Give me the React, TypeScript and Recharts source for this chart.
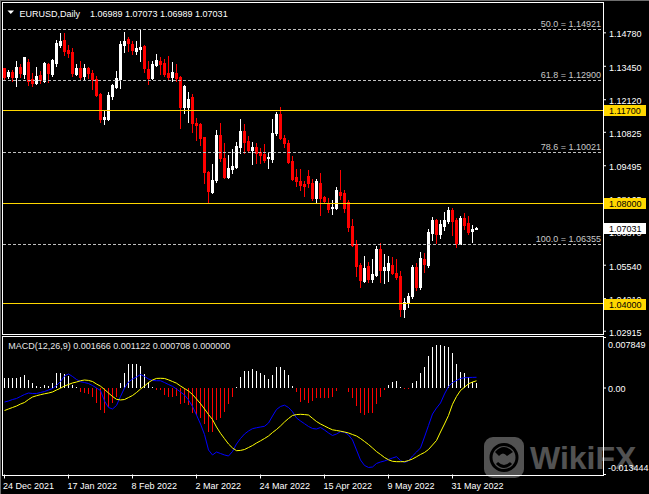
import React from 'react';
import { ComposedChart, Bar, Line, XAxis, YAxis, ReferenceLine } from 'recharts';

// ---------- DATA ----------
const candleOpen = [
  1.1337, 1.1306, 1.1324, 1.1301, 1.1342, 1.1314, 1.1363, 1.1293, 1.1277, 1.1309,
  1.1287, 1.1353, 1.1314, 1.1357, 1.1428, 1.1450, 1.1410, 1.1403, 1.1314, 1.1337,
  1.1306, 1.1337, 1.1320, 1.1295, 1.1235, 1.1137, 1.1136, 1.1227, 1.1264, 1.1295,
  1.1430, 1.1454, 1.1434, 1.1406, 1.1415, 1.1426, 1.1334, 1.1297, 1.1350, 1.1366,
  1.1359, 1.1317, 1.1301, 1.1320, 1.1301, 1.1183, 1.1185, 1.1223, 1.1121, 1.1116,
  1.1064, 1.0926, 1.0847, 1.0893, 1.1072, 1.0979, 1.0906, 1.0935, 1.0943, 1.1023,
  1.1088, 1.1048, 1.1012, 1.1023, 1.1006, 1.0995, 1.0980, 1.0976, 1.1078, 1.1155,
  1.1061, 1.1039, 1.0969, 1.0903, 1.0890, 1.0877, 1.0909, 1.0882, 1.0820, 1.0880,
  1.0827, 1.0800, 1.0780, 1.0780, 1.0847, 1.0840, 1.0804, 1.0710, 1.0638, 1.0555,
  1.0493, 1.0551, 1.0499, 1.0515, 1.0619, 1.0535, 1.0535, 1.0555, 1.0525, 1.0511,
  1.0379, 1.0405, 1.0432, 1.0548, 1.0469, 1.0577, 1.0555, 1.0684, 1.0734, 1.0678,
  1.0710, 1.0731, 1.0774, 1.0734, 1.0638, 1.0741, 1.0721, 1.0690, 1.06989,
];
const candleHigh = [
  1.1340, 1.1330, 1.1330, 1.1366, 1.1354, 1.1382, 1.1374, 1.1317, 1.1342, 1.1328,
  1.1363, 1.1359, 1.1373, 1.1450, 1.1476, 1.1476, 1.1428, 1.1417, 1.1354, 1.1366,
  1.1353, 1.1344, 1.1330, 1.1306, 1.1240, 1.1171, 1.1244, 1.1275, 1.1326, 1.1447,
  1.1480, 1.1460, 1.1447, 1.1444, 1.1490, 1.1428, 1.1366, 1.1367, 1.1394, 1.1382,
  1.1374, 1.1387, 1.1362, 1.1354, 1.1306, 1.1271, 1.1244, 1.1233, 1.1141, 1.1118,
  1.1064, 1.0930, 1.0957, 1.1092, 1.1121, 1.1039, 1.0992, 1.1015, 1.1045, 1.1135,
  1.1116, 1.1068, 1.1044, 1.1039, 1.1019, 1.1035, 1.0999, 1.1135, 1.1163, 1.1184,
  1.1072, 1.1052, 1.0988, 1.0937, 1.0937, 1.0890, 1.0933, 1.0895, 1.0895, 1.0919,
  1.0829, 1.0820, 1.0813, 1.0864, 1.0933, 1.0853, 1.0813, 1.0736, 1.0654, 1.0562,
  1.0591, 1.0568, 1.0577, 1.0631, 1.0641, 1.0597, 1.0591, 1.0585, 1.0577, 1.0531,
  1.0422, 1.0442, 1.0555, 1.0562, 1.0608, 1.0601, 1.0697, 1.0747, 1.0739, 1.0734,
  1.0767, 1.0787, 1.0781, 1.0741, 1.0750, 1.0760, 1.0750, 1.0714, 1.07073,
];
const candleLow = [
  1.1293, 1.1297, 1.1287, 1.1268, 1.1304, 1.1297, 1.1271, 1.1267, 1.1273, 1.1280,
  1.1284, 1.1281, 1.1306, 1.1346, 1.1423, 1.1390, 1.1383, 1.1306, 1.1310, 1.1295,
  1.1295, 1.1300, 1.1255, 1.1227, 1.1124, 1.1117, 1.1132, 1.1216, 1.1260, 1.1260,
  1.1402, 1.1406, 1.1393, 1.1393, 1.1367, 1.1324, 1.1276, 1.1295, 1.1346, 1.1314,
  1.1306, 1.1296, 1.1285, 1.1287, 1.1101, 1.1161, 1.1124, 1.1082, 1.1052, 1.1031,
  1.0882, 1.0803, 1.0843, 1.0886, 1.0969, 1.0900, 1.0900, 1.0922, 1.0939, 1.0999,
  1.0999, 1.1006, 1.0957, 1.0959, 1.0962, 1.0966, 1.0941, 1.0966, 1.1072, 1.1056,
  1.1023, 1.0959, 1.0893, 1.0869, 1.0853, 1.0829, 1.0866, 1.0813, 1.0807, 1.0754,
  1.0800, 1.0767, 1.0758, 1.0776, 1.0816, 1.0767, 1.0691, 1.0631, 1.0511, 1.0469,
  1.0489, 1.0489, 1.0489, 1.0511, 1.0489, 1.0482, 1.0493, 1.0519, 1.0499, 1.0354,
  1.0350, 1.0387, 1.0422, 1.0456, 1.0458, 1.0529, 1.0548, 1.0654, 1.0641, 1.0661,
  1.0694, 1.0721, 1.0674, 1.0625, 1.0638, 1.0697, 1.0678, 1.0648, 1.06989,
];
const candleClose = [
  1.1301, 1.1324, 1.1304, 1.1341, 1.1317, 1.1380, 1.1288, 1.1277, 1.1306, 1.1291,
  1.1359, 1.1317, 1.1369, 1.1439, 1.1447, 1.1406, 1.1397, 1.1320, 1.1340, 1.1304,
  1.1340, 1.1317, 1.1293, 1.1231, 1.1134, 1.1145, 1.1231, 1.1271, 1.1300, 1.1434,
  1.1446, 1.1436, 1.1410, 1.1419, 1.1420, 1.1340, 1.1300, 1.1355, 1.1370, 1.1353,
  1.1313, 1.1301, 1.1322, 1.1297, 1.1183, 1.1268, 1.1215, 1.1120, 1.1112, 1.1061,
  1.0924, 1.0851, 1.0893, 1.1072, 1.0979, 1.0906, 1.0942, 1.0949, 1.1028, 1.1088,
  1.1045, 1.1012, 1.1023, 1.0999, 1.0992, 1.0972, 1.0986, 1.1078, 1.1155, 1.1058,
  1.1039, 1.0966, 1.0896, 1.0890, 1.0873, 1.0869, 1.0880, 1.0820, 1.0890, 1.0820,
  1.0810, 1.0776, 1.0787, 1.0853, 1.0833, 1.0780, 1.0707, 1.0633, 1.0551, 1.0495,
  1.0542, 1.0498, 1.0519, 1.0619, 1.0535, 1.0546, 1.0562, 1.0525, 1.0509, 1.0379,
  1.0409, 1.0432, 1.0548, 1.0466, 1.0581, 1.0558, 1.0687, 1.0734, 1.0678, 1.0717,
  1.0734, 1.0774, 1.0731, 1.0641, 1.0741, 1.0714, 1.0687, 1.0698, 1.07031,
];

const macdHist = [
  0.0016, 0.0016, 0.0016, 0.0016, 0.00176, 0.002, 0.00124, 0.00073, 0.0003, 0.0001,
  0.00047, 0.0003, 0.00083, 0.0023, 0.0023, 0.0022, 0.00187, 0.00047, 0.0001, -0.00057,
  -0.00073, -0.00098, -0.00135, -0.00228, -0.0034, -0.0039, -0.003, -0.0023, -0.00135, 0.00083,
  0.0024, 0.0037, 0.0038, 0.0037, 0.0034, 0.0022, 0.001, 0.0001, -0.0003, -0.00037,
  -0.0011, -0.00135, -0.00135, -0.0013, -0.0025, -0.0024, -0.0026, -0.0039, -0.0042, -0.0047,
  -0.0056, -0.0069, -0.0069, -0.005, -0.0047, -0.0037, -0.0025, -0.00135, 0.0002, 0.00166,
  0.0026, 0.0026, 0.0029, 0.0026, 0.0023, 0.002, 0.00135, 0.002, 0.0033, 0.0033,
  0.0028, 0.002, 0.0003, -0.0006, -0.0021, -0.0019, -0.0024, -0.002, -0.0016, -0.0016,
  -0.0016, -0.0016, -0.00135, -0.0004, 0, 0, -0.00067, -0.0016, -0.0028, -0.0039,
  -0.0042, -0.0039, -0.0039, -0.0025, -0.00135, -0.0003, 0.00047, 0.001, 0.0011, 0.0001,
  -0.0001, -0.0001, 0.00073, 0.0011, 0.0024, 0.0032, 0.005, 0.0064, 0.0067, 0.0067,
  0.0066, 0.0064, 0.0055, 0.0038, 0.0025, 0.0024, 0.00166, 0.001, 0.000708,
];
const macdMain = [
  -0.00218, -0.00202, -0.00179, -0.00163, -0.00132, -0.00101, -0.00078, -0.00085, -0.00085, -0.0007,
  -0.00054, -0.00031, -0.00008, 0.00039, 0.00101, 0.00186, 0.00218, 0.00179, 0.00132, 0.00098,
  0.00085, 0.0007, 0.00039, 0, -0.00039, -0.00202, -0.00303, -0.00326, -0.00272, -0.00132,
  0, 0.00093, 0.0014, 0.00171, 0.0021, 0.00179, 0.0014, 0.00117, 0.00113, 0.00113,
  0.00085, 0.00054, 0.00026, -0.00016, -0.00062, -0.00109, -0.00186, -0.00287, -0.0042, -0.00559,
  -0.00723, -0.00963, -0.01041, -0.00995, -0.01018, -0.01041, -0.01057, -0.00987, -0.0087, -0.00785,
  -0.00715, -0.00668, -0.00632, -0.00618, -0.00606, -0.00595, -0.00544, -0.00435, -0.00334, -0.00287,
  -0.00267, -0.00303, -0.00368, -0.00466, -0.00513, -0.00555, -0.00598, -0.00629, -0.00637, -0.00614,
  -0.00653, -0.00699, -0.00738, -0.00715, -0.00679, -0.00688, -0.0073, -0.00808, -0.00963, -0.01119,
  -0.01204, -0.01235, -0.01228, -0.01173, -0.0115, -0.01134, -0.01111, -0.01088, -0.01068, -0.01127,
  -0.01155, -0.01134, -0.01057, -0.00995, -0.00932, -0.00761, -0.00583, -0.00404, -0.00311, -0.00233,
  -0.00093, 0.00023, 0.00085, 0.00117, 0.00148, 0.0016, 0.00163, 0.00165, 0.001666,
];
const macdSignal = [
  -0.0035, -0.00326, -0.00303, -0.0028, -0.00249, -0.00225, -0.00179, -0.0014, -0.0012, -0.00104,
  -0.0009, -0.00078, -0.00062, -0.00031, -0.00003, 0.00031, 0.00054, 0.00078, 0.00093, 0.00113,
  0.00124, 0.00118, 0.00101, 0.00062, 0.00028, -0.00023, -0.00078, -0.00132, -0.00176, -0.00186,
  -0.00179, -0.00148, -0.00117, -0.0007, -0.00016, 0.00031, 0.00085, 0.00124, 0.00149, 0.00151,
  0.00148, 0.00127, 0.00101, 0.00075, 0.00031, -0.00008, -0.00047, -0.00101, -0.00171, -0.00244,
  -0.00326, -0.00412, -0.0049, -0.00606, -0.00704, -0.00788, -0.0087, -0.00932, -0.00974, -0.0097,
  -0.00956, -0.00925, -0.00894, -0.00855, -0.00821, -0.00785, -0.00746, -0.00692, -0.00645, -0.0059,
  -0.00528, -0.00474, -0.00427, -0.00413, -0.00409, -0.00413, -0.0042, -0.00471, -0.00521, -0.00559,
  -0.0059, -0.00622, -0.0065, -0.0066, -0.00671, -0.00684, -0.00699, -0.00723, -0.00746, -0.00785,
  -0.00831, -0.00878, -0.00932, -0.00988, -0.01033, -0.0108, -0.01116, -0.01139, -0.01145, -0.01145,
  -0.01145, -0.01127, -0.01103, -0.01069, -0.01033, -0.01002, -0.00956, -0.00886, -0.00816, -0.00684,
  -0.00559, -0.00427, -0.00253, -0.00132, -0.00039, 0.00012, 0.00065, 0.00093, 0.001122,
];

const priceTicks = [1.1478, 1.1345, 1.1212, 1.10825, 1.09495, 1.08165, 1.0687, 1.0554, 1.0421, 1.02915];
const fibNames = ['50.0', '61.8', '78.6', '100.0'];
const fibValues = [1.14921, 1.129, 1.10021, 1.06355];
const levelValues = [1.117, 1.08, 1.04];
const lastPrice = 1.07031;
const dateTickBars = [0, 16, 32, 48, 64, 80, 96, 112];
const dateLabels = ['24 Dec 2021', '17 Jan 2022', '8 Feb 2022', '2 Mar 2022', '24 Mar 2022', '15 Apr 2022', '9 May 2022', '31 May 2022'];
const macdTicks = [0.007849, 0, -0.013444];
const macdTickLabels = ['0.007849', '0.00', '-0.013444'];
const headerSymbol = 'EURUSD,Daily';
const headerOHLC = ['1.06989', '1.07073', '1.06989', '1.07031'];
const macdName = 'MACD(12,26,9)';
const macdHeaderValues = ['0.001666', '0.001122', '0.000708', '0.000000'];

// ---------- DERIVED TABLES ----------
const candleData = candleOpen.map((o, i) => ({
  i,
  open: o,
  high: candleHigh[i],
  low: candleLow[i],
  close: candleClose[i],
}));
const macdData = macdHist.map((h, i) => ({ i, hist: h, macd: macdMain[i], signal: macdSignal[i] }));

// ---------- LAYOUT ----------
const W = 649;
const H = 494;
const FONT = '"Liberation Sans", Arial, sans-serif';
const X_DOMAIN: [number, number] = [-0.375, 149.625];
const PRICE_DOMAIN: [number, number] = [1.02805, 1.15986];
const MACD_DOMAIN: [number, number] = [-0.013444, 0.007849];
const GOLD = '#FFD700';

const CandleShape = (props: any) => {
  const { x, y, width, height, payload } = props;
  if (!payload || x == null) return null;
  const { open, close, high, low } = payload;
  const cx = x + width / 2;
  const top = Math.min(y, y + height);
  const h = Math.abs(height);
  const span = high - low;
  const toY = (p: number) => (span > 0 ? top + ((high - p) / span) * h : top);
  const yo = toY(open);
  const yc = toY(close);
  const bull = close >= open;
  const color = bull ? '#FFFFFF' : '#FF0000';
  const bTop = Math.round(Math.min(yo, yc));
  const bBot = Math.round(Math.max(yo, yc));
  const wTop = Math.round(top);
  const wBot = Math.round(top + h);
  return (
    <g shapeRendering="crispEdges">
      <rect x={cx - 0.5} y={wTop} width={1} height={Math.max(1, wBot - wTop + 1)} fill={color} />
      <rect x={cx - 1.5} y={bTop} width={3} height={Math.max(1, bBot - bTop + 1)} fill={color} />
    </g>
  );
};

const HistShape = (props: any) => {
  const { x, y, width, height, payload } = props;
  if (!payload || x == null || payload.hist === 0) return null;
  const cx = x + width / 2;
  const top = Math.min(y, y + height);
  const h = Math.max(1, Math.abs(height));
  return (
    <rect
      x={cx - 0.5}
      y={payload.hist >= 0 ? top : top}
      width={1}
      height={h}
      fill={payload.hist >= 0 ? '#FFFFFF' : '#FF0000'}
      shapeRendering="crispEdges"
    />
  );
};

const PriceTick = (props: any) => {
  const { x, y, payload } = props;
  return (
    <text x={x + 1} y={y + 4.3} fill="#FFFFFF" fontSize={9} fontFamily={FONT}>
      {Number(payload.value).toFixed(5)}
    </text>
  );
};

const MacdTick = (props: any) => {
  const { x, y, payload, index } = props;
  const k = macdTicks.indexOf(payload.value);
  const shift = k === 0 ? 7 : k === 2 ? -6.7 : 0.8;
  return (
    <text x={x} y={y + shift + 3.2} fill="#FFFFFF" fontSize={9} fontFamily={FONT}>
      {macdTickLabels[k >= 0 ? k : index]}
    </text>
  );
};

const DateTick = (props: any) => {
  const { x, y, payload } = props;
  const k = dateTickBars.indexOf(payload.value);
  return (
    <text x={k === 0 ? 3 : x - 1} y={y + 8} fill="#FFFFFF" fontSize={9} fontFamily={FONT}>
      {dateLabels[k]}
    </text>
  );
};

const FibLabel = (props: any) => {
  const { viewBox, text } = props;
  if (!viewBox) return null;
  return (
    <text
      x={viewBox.x + viewBox.width - 2}
      y={viewBox.y - 2.5}
      textAnchor="end"
      fill="#C8C8C8"
      fontSize={9}
      fontFamily={FONT}
    >
      {text}
    </text>
  );
};

const PriceBox = (props: any) => {
  const { viewBox, text, bg } = props;
  if (!viewBox) return null;
  const bx = viewBox.x + viewBox.width + 1;
  const cy = Math.round(viewBox.y);
  return (
    <g>
      <rect x={bx} y={cy - 5} width={42} height={11} fill={bg} shapeRendering="crispEdges" />
      <text x={bx + 5} y={cy + 3.8} fill="#000000" fontSize={9} fontFamily={FONT}>
        {text}
      </text>
    </g>
  );
};

const layer: React.CSSProperties = { position: 'absolute', left: 0, top: 0 };

export default function App() {
  return (
    <div style={{ position: 'absolute', left: 0, top: 0, width: W, height: H, background: '#000000', overflow: 'hidden' }}>
      {/* window + panel frames */}
      <div style={{ position: 'absolute', left: 0, top: 0, width: W - 1, height: H - 1, borderTop: '1px solid #6E6E6E', borderLeft: '1px solid #6E6E6E' }} />
      <div style={{ position: 'absolute', left: 2, top: 2, width: 600, height: 331, border: '1px solid #FFFFFF' }} />
      <div style={{ position: 'absolute', left: 2, top: 336, width: 600, height: 138, border: '1px solid #FFFFFF' }} />

      {/* price panel: candles + price axis */}
      <div style={layer}>
        <ComposedChart width={W} height={H} data={candleData} margin={{ top: 2.5, right: 0, bottom: 160, left: 3 }}>
          <XAxis dataKey="i" type="number" domain={X_DOMAIN} hide allowDataOverflow />
          <YAxis
            orientation="right"
            width={46}
            type="number"
            domain={PRICE_DOMAIN}
            allowDataOverflow
            ticks={priceTicks}
            interval={0}
            axisLine={false}
            tickLine={{ stroke: '#FFFFFF' }}
            tickSize={3}
            tick={<PriceTick />}
          />
          <Bar
            dataKey={(d: any) => [d.low, d.high]}
            barSize={3}
            shape={(p: any) => <CandleShape {...p} />}
            isAnimationActive={false}
          />
        </ComposedChart>
      </div>

      {/* price panel overlay: levels, fibo lines, price boxes */}
      <div style={layer}>
        <ComposedChart width={W} height={H} data={candleData} margin={{ top: 2.5, right: 46, bottom: 160, left: 3 }}>
          <XAxis dataKey="i" type="number" domain={X_DOMAIN} hide allowDataOverflow />
          <YAxis type="number" domain={PRICE_DOMAIN} hide allowDataOverflow />
          {fibValues.map((v, k) => (
            <ReferenceLine
              key={'fib' + k}
              y={v}
              stroke="#BEBEBE"
              strokeDasharray="3 2"
              shapeRendering="crispEdges"
              label={<FibLabel text={`${fibNames[k]} = ${v.toFixed(5)}`} />}
            />
          ))}
          {levelValues.map((v, k) => (
            <ReferenceLine
              key={'lvl' + k}
              y={v}
              stroke={GOLD}
              shapeRendering="crispEdges"
              label={<PriceBox text={v.toFixed(5)} bg={GOLD} />}
            />
          ))}
          <ReferenceLine
            y={lastPrice}
            stroke="#000000"
            strokeOpacity={0}
            label={<PriceBox text={lastPrice.toFixed(5)} bg="#FFFFFF" />}
          />
        </ComposedChart>
      </div>

      {/* MACD panel */}
      <div style={layer}>
        <ComposedChart width={W} height={H} data={macdData} margin={{ top: 337.5, right: 0, bottom: 0, left: 3 }}>
          <XAxis
            dataKey="i"
            type="number"
            domain={X_DOMAIN}
            allowDataOverflow
            ticks={dateTickBars}
            interval={0}
            height={19.5}
            axisLine={false}
            tickLine={{ stroke: '#FFFFFF' }}
            tickSize={4}
            tick={<DateTick />}
          />
          <YAxis
            orientation="right"
            width={46}
            type="number"
            domain={MACD_DOMAIN}
            allowDataOverflow
            ticks={macdTicks}
            interval={0}
            axisLine={false}
            tickLine={{ stroke: '#FFFFFF' }}
            tickSize={3}
            tick={<MacdTick />}
          />
          <Bar dataKey="hist" barSize={1} shape={(p: any) => <HistShape {...p} />} isAnimationActive={false} />
          <Line dataKey="macd" type="linear" stroke="#0000FF" strokeWidth={1} dot={false} isAnimationActive={false} />
          <Line dataKey="signal" type="linear" stroke="#FFFF00" strokeWidth={1} dot={false} isAnimationActive={false} />
        </ComposedChart>
      </div>

      {/* headers and watermark */}
      <svg width={W} height={H} style={{ ...layer, pointerEvents: 'none' }}>
        <polygon points="7.5,10.5 14,10.5 10.75,14" fill="#FFFFFF" />
        <text x={19.5} y={16.5} fill="#FFFFFF" fontSize={9} fontFamily={FONT}>
          {headerSymbol}
        </text>
        <text x={90} y={16.5} fill="#FFFFFF" fontSize={9} fontFamily={FONT}>
          {headerOHLC.join(' ')}
        </text>
        <text x={8.3} y={348.5} fill="#E6E6E6" fontSize={9} fontFamily={FONT}>
          {macdName + ' ' + macdHeaderValues.join(' ')}
        </text>
        <g opacity={0.32}>
          <rect x={484} y={437} width={40} height={41} rx={9} fill="#FFFFFF" />
          <circle cx={504} cy={457.5} r={13} fill="none" stroke="#000000" strokeWidth={3} />
          <path d="M495 452 Q504 442 513 452 L507 456 Q503 451 499 456 Z" fill="#000000" />
          <path d="M497 463 Q504 470 511 463" fill="none" stroke="#000000" strokeWidth={3} />
          <text x={530} y={469} fontSize={32} fontWeight="bold" fill="#FFFFFF" fontFamily={FONT}>
            WikiFX
          </text>
        </g>
      </svg>
    </div>
  );
}
